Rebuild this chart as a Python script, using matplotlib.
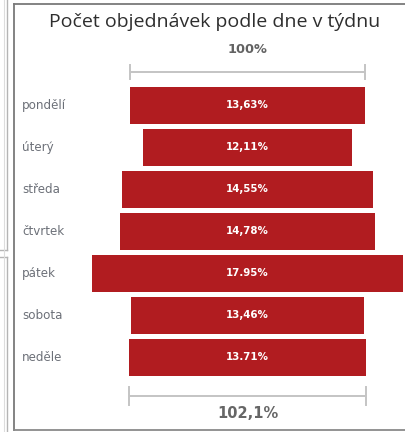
import matplotlib
matplotlib.use("Agg")
import matplotlib.pyplot as plt
from matplotlib.lines import Line2D

days = ["pondělí", "úterý", "středa", "čtvrtek", "pátek", "sobota", "neděle"]
values = [13.63, 12.11, 14.55, 14.78, 17.95, 13.46, 13.71]
value_labels = ["13,63%", "12,11%", "14,55%", "14,78%", "17.95%", "13,46%", "13.71%"]
title = "Počet objednávek podle dne v týdnu"
top_label = "100%"
bottom_label = "102,1%"

W, H = 405, 432
fig = plt.figure(figsize=(W / 100, H / 100), dpi=100)
ax = fig.add_axes([0, 0, 1, 1])
ax.set_axis_off()

cx, scale = 247.5, 17.3       # px center, px per %
y0, pitch = 105.5, 42.0        # px of first bar center, px per row
ax.set_xlim((0 - cx) / scale, (W - cx) / scale)
ax.set_ylim((H - y0) / pitch, (0 - y0) / pitch)

ypos = list(range(len(days)))
ax.barh(ypos, values, left=[-v / 2 for v in values], height=0.88,
        color="#B11C20", edgecolor="none")

label_x = (22 - cx) / scale
for i, (d, v, lab) in enumerate(zip(days, values, value_labels)):
    ax.text(label_x, i, d, ha="left", va="center", fontsize=8.6,
            color="#6c7078", family="DejaVu Sans")
    ax.text(0, i, lab, ha="center", va="center", fontsize=7.4,
            color="white", fontweight="bold", family="DejaVu Sans")

# range indicators (first & last bar widths)
lc = "#c4c4c4"
top_y = (72 - y0) / pitch
v0 = values[0]
ax.plot([-v0 / 2, v0 / 2], [top_y, top_y], color=lc, lw=1.4, solid_capstyle="butt")
for s in (-1, 1):
    ax.plot([s * v0 / 2] * 2, [(65 - y0) / pitch, (79 - y0) / pitch], color=lc, lw=1.4)
bot_y = (396 - y0) / pitch
vl = values[-1]
ax.plot([-vl / 2, vl / 2], [bot_y, bot_y], color=lc, lw=1.4, solid_capstyle="butt")
for s in (-1, 1):
    ax.plot([s * vl / 2] * 2, [(387 - y0) / pitch, (405 - y0) / pitch], color=lc, lw=1.4)

ax.text(0, (50 - y0) / pitch, top_label, ha="center", va="center", fontsize=9.3,
        color="#626262", fontweight="bold", family="DejaVu Sans")
ax.text(0, (413 - y0) / pitch, bottom_label, ha="center", va="center", fontsize=10.5,
        color="#666666", fontweight="bold", family="DejaVu Sans")

fig.text(215 / W, 1 - 22 / H, title, ha="center", va="center", fontsize=14,
         color="#2e2e2e", family="Open Sans")

# frame lines (figure pixel coords)
def fl(xs, ys, color, lw):
    fig.add_artist(Line2D([x / W for x in xs], [1 - y / H for y in ys],
                          color=color, lw=lw, transform=fig.transFigure))

fl([14, 14], [4, 430], "#7a7a7a", 1.3)
fl([14, 405], [4, 4], "#7a7a7a", 1.3)
fl([14, 405], [430, 430], "#8a8a8a", 1.3)
fl([7, 7], [0, 250], "#b5b5b5", 1.0)
fl([0, 7], [250, 250], "#b5b5b5", 1.0)
fl([0, 7], [257, 257], "#b5b5b5", 1.0)
fl([7, 7], [257, 432], "#b5b5b5", 1.0)
fl([4, 4], [0, 432], "#dddddd", 0.8)

fig.savefig("out.png", dpi=100)
